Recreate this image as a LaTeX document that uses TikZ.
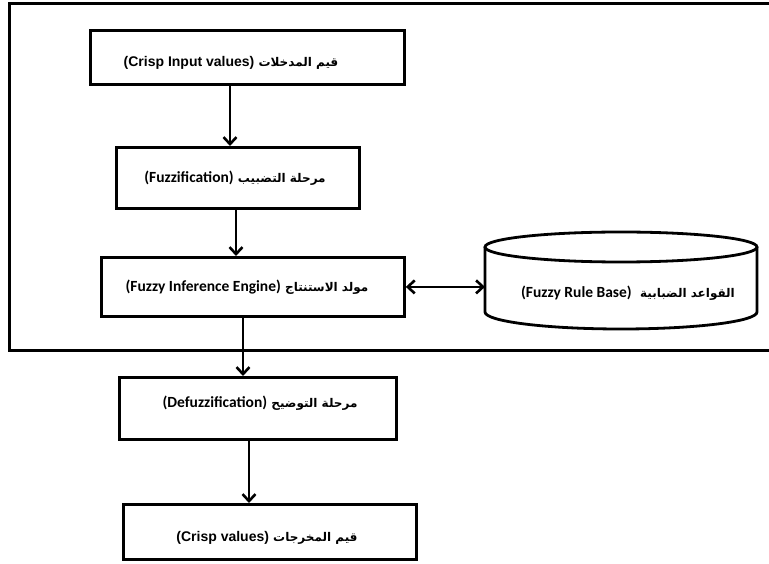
\documentclass[tikz,border=0pt]{standalone}
\usepackage{fontspec}
\usetikzlibrary{arrows.meta}
\TeXXeTstate=1
\newfontfamily\arabicfont[Script=Arabic]{DejaVu Sans}
\newfontfamily\arialb{Liberation Sans}
\newfontfamily\calib{Carlito}
\newcommand{\arsz}{\arabicfont\bfseries\fontsize{12}{14}\selectfont}
\newcommand{\arlat}{\arialb\bfseries\fontsize{14}{16}\selectfont}
\newcommand{\calat}{\calib\bfseries\fontsize{15.5}{17}\selectfont}
\begin{document}
\begin{tikzpicture}[x=1pt,y=-1pt,
  box/.style={draw, line width=2.8pt, inner sep=0pt, anchor=north west},
  lab/.style={inner sep=0pt},
  arr/.style={line width=2.6pt, -{Straight Barb[length=7pt,width=13pt]}},
  dblarr/.style={line width=2.6pt, {Straight Barb[length=7pt,width=13pt]}-{Straight Barb[length=7pt,width=13pt]}}]
\useasboundingbox (0,0) rectangle (769,564);
% outer frame (open at right)
\draw[line width=3pt] (769,4) -- (9,4) -- (9,350) -- (769,350);
% boxes
\node[box, minimum width=314pt, minimum height=54pt] (b1) at (89,29) {};
\node[box, minimum width=243pt, minimum height=61pt] (b2) at (115,146) {};
\node[box, minimum width=303pt, minimum height=59pt] (b3) at (100,256) {};
\node[box, minimum width=277pt, minimum height=62pt] (b4) at (118,376) {};
\node[box, minimum width=293pt, minimum height=55pt] (b5) at (122,503) {};
% cylinder
\node[minimum width=272pt, minimum height=97pt, inner sep=0pt, anchor=north west] (rb) at (485,232) {};
\draw[line width=2.8pt] (621,247) ellipse [x radius=136, y radius=15];
\draw[line width=2.8pt] (485,247) -- (485,312) arc[start angle=180, end angle=0, x radius=136, y radius=17] -- (757,312) -- (757,247);
% labels
\node[lab] (t1) at (231,63) {\arsz\beginR قيم المدخلات \beginL\arlat(Crisp Input values)\endL\endR};
\node[lab] (t2) at (235,178) {\arsz\beginR مرحلة التضبيب \beginL\calat(Fuzzification)\endL\endR};
\node[lab] (t3) at (247,287) {\arsz\beginR مولد الاستنتاج \beginL\calat(Fuzzy Inference Engine)\endL\endR};
\node[lab] (t4) at (260,403) {\arsz\beginR مرحلة التوضيح \beginL\calat(Defuzzification)\endL\endR};
\node[lab] (t5) at (267,538) {\arsz\beginR قيم المخرجات \beginL\arlat(Crisp values)\endL\endR};
\node[lab] (t6) at (628,293) {\arsz\beginR القواعد الضبابية \ \beginL\calat(Fuzzy Rule Base)\endL\endR};
% connectors
\draw[arr] (b1.south -| 230,0) -- (b2.north -| 230,0);
\draw[arr] (b2.south -| 236,0) -- (b3.north -| 236,0);
\draw[arr] (b3.south -| 243,0) -- (b4.north -| 243,0);
\draw[arr] (b4.south -| 249,0) -- (b5.north -| 249,0);
\draw[dblarr] (b3.east) -- (b3.east -| rb.west);
\end{tikzpicture}
\end{document}
